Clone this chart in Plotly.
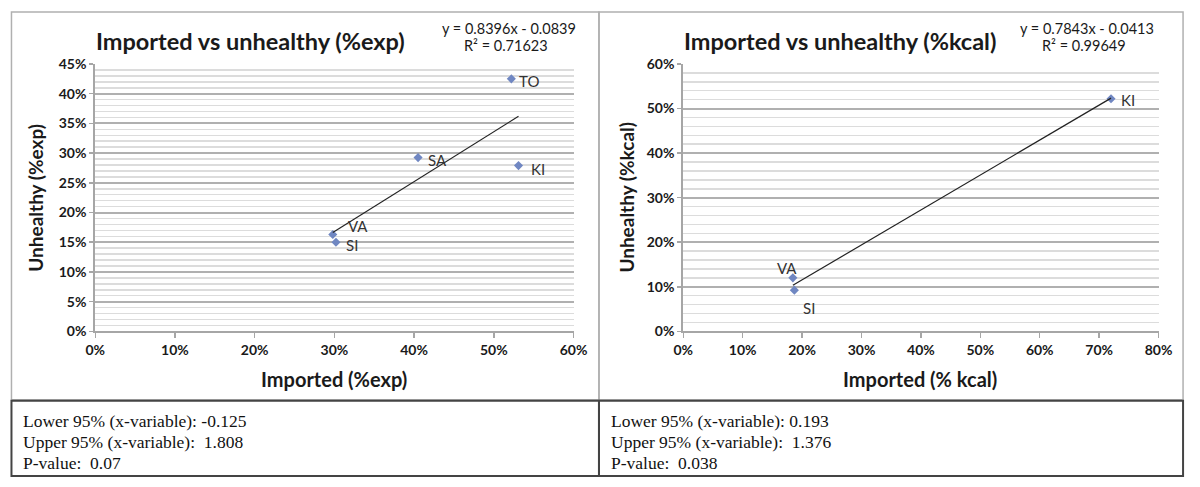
import plotly.graph_objects as go

W, H = 1200, 487

# ---- data ----
left_labels = ["TO", "SA", "KI", "VA", "SI"]
left_x = [0.522, 0.405, 0.531, 0.298, 0.302]
left_y = [0.425, 0.2925, 0.279, 0.163, 0.150]
left_slope, left_intercept = 0.8396, -0.0839
left_eq = ["y = 0.8396x - 0.0839", "R² = 0.71623"]
left_stats = ["Lower 95% (x-variable): -0.125", "Upper 95% (x-variable):  1.808", "P-value:  0.07"]

right_labels = ["KI", "VA", "SI"]
right_x = [0.720, 0.1845, 0.187]
right_y = [0.522, 0.120, 0.0925]
right_slope, right_intercept = 0.7843, -0.0413
right_eq = ["y = 0.7843x - 0.0413", "R² = 0.99649"]
right_stats = ["Lower 95% (x-variable): 0.193", "Upper 95% (x-variable):  1.376", "P-value:  0.038"]

left_title = "Imported vs unhealthy (%exp)"
right_title = "Imported vs unhealthy (%kcal)"
left_xtitle, left_ytitle = "Imported (%exp)", "Unhealthy (%exp)"
right_xtitle, right_ytitle = "Imported (% kcal)", "Unhealthy (%kcal)"

# label placement (style): (xanchor, xshift, yshift)
left_label_pos = [("left", 6, -2), ("left", 8, -2), ("left", 10, -3.5), ("left", 13, 8.5), ("left", 8, -3)]
right_label_pos = [("left", 8, -1), ("center", -5.5, 10), ("left", 7, -18)]

# ---- helpers ----
def px(x):
    return x / W

def py(y):
    return 1 - y / H

MARK = "#7087C2"
SANS = "Lato"
TXT = "#1a1a1a"

fig = go.Figure()

def trend(xs, m, b):
    x0, x1 = min(xs), max(xs)
    return [x0, x1], [m * x0 + b, m * x1 + b]

fig.add_trace(go.Scatter(x=left_x, y=left_y, mode="markers",
                         marker=dict(symbol="diamond", size=7, color=MARK),
                         xaxis="x", yaxis="y", showlegend=False, hoverinfo="skip"))
tx, ty = trend(left_x, left_slope, left_intercept)
fig.add_trace(go.Scatter(x=tx, y=ty, mode="lines", line=dict(color="#222", width=1.2),
                         xaxis="x", yaxis="y", showlegend=False, hoverinfo="skip"))

fig.add_trace(go.Scatter(x=right_x, y=right_y, mode="markers",
                         marker=dict(symbol="diamond", size=7, color=MARK),
                         xaxis="x2", yaxis="y2", showlegend=False, hoverinfo="skip"))
tx, ty = trend(right_x, right_slope, right_intercept)
fig.add_trace(go.Scatter(x=tx, y=ty, mode="lines", line=dict(color="#222", width=1.2),
                         xaxis="x2", yaxis="y2", showlegend=False, hoverinfo="skip"))

tickfont = dict(family=SANS, size=14, color=TXT, weight="bold")
AX = "#a6a6a6"

def xaxis(dom, rng, dt, anchor):
    return dict(domain=dom, range=rng, dtick=dt, tick0=0, tickformat=".0%",
                showgrid=False, zeroline=False, showline=True, linecolor=AX, linewidth=2,
                ticks="outside", ticklen=5, tickcolor=AX, tickwidth=1.5,
                tickfont=tickfont, anchor=anchor, fixedrange=True)

def yaxis(dom, rng, dt, mdt, anchor):
    return dict(domain=dom, range=rng, dtick=dt, tick0=0, tickformat=".0%",
                showgrid=True, gridcolor="#b0b0b0", gridwidth=2,
                minor=dict(dtick=mdt, showgrid=True, gridcolor="#dcdcdc", gridwidth=1.5, ticks=""),
                zeroline=False, showline=True, linecolor=AX, linewidth=2,
                ticks="outside", ticklen=4, tickcolor=AX, tickwidth=1.5,
                tickfont=tickfont, anchor=anchor, fixedrange=True)

ydom = [py(334), py(57)]
fig.update_layout(
    width=W, height=H, margin=dict(l=0, r=0, t=0, b=0),
    paper_bgcolor="white", plot_bgcolor="white", hovermode=False,
    xaxis=xaxis([px(87), px(575)], [0, 0.6], 0.1, "y"),
    yaxis=yaxis(ydom, [0, 0.45], 0.05, 0.01, "x"),
    xaxis2=xaxis([px(687), px(1172)], [0, 0.8], 0.1, "y2"),
    yaxis2=yaxis(ydom, [0, 0.6], 0.1, 0.02, "x2"),
)

ann = []
def text(x, y, s, size, bold=False, family=SANS, xanchor="center", angle=0, color=TXT):
    ann.append(dict(x=px(x), y=py(y), xref="paper", yref="paper", text=s, showarrow=False,
                    xanchor=xanchor, yanchor="middle", textangle=angle,
                    font=dict(family=family, size=size, color=color,
                              weight="bold" if bold else "normal")))

# data labels
for xs, ys, labs, pos, xr, yr in [(left_x, left_y, left_labels, left_label_pos, "x", "y"),
                                   (right_x, right_y, right_labels, right_label_pos, "x2", "y2")]:
    for xv, yv, lab, (xa, xs_, ys_) in zip(xs, ys, labs, pos):
        ann.append(dict(x=xv, y=yv, xref=xr, yref=yr, text=lab, showarrow=False,
                        xanchor=xa, yanchor="middle", xshift=xs_, yshift=ys_,
                        font=dict(family=SANS, size=15, color="#333")))

# titles
text(245, 33, left_title, 23.5, bold=True)
text(847, 33, right_title, 23.5, bold=True)
# equations
text(509, 20, left_eq[0], 14.5)
text(506, 37.5, left_eq[1], 14.5)
text(1099, 20, right_eq[0], 14.5)
text(1096, 37.5, right_eq[1], 14.5)
# axis titles
text(331, 383, left_xtitle, 20, bold=True)
text(929, 383, right_xtitle, 20, bold=True)
text(26, 195, left_ytitle, 19, bold=True, angle=-90)
text(629, 195, right_ytitle, 19, bold=True, angle=-90)
# stats
for i, s in enumerate(left_stats):
    text(11, 427 + i * 21.5, s, 17.5, family="Liberation Serif", xanchor="left", color="#111")
for i, s in enumerate(right_stats):
    text(611, 427 + i * 21.5, s, 17.5, family="Liberation Serif", xanchor="left", color="#111")
fig.update_layout(annotations=ann)

shapes = []
def rect(x0, y0, x1, y1, color, width):
    shapes.append(dict(type="rect", xref="paper", yref="paper",
                       x0=px(x0), x1=px(x1), y0=py(y1), y1=py(y0),
                       line=dict(color=color, width=width), fillcolor="rgba(0,0,0,0)"))

rect(1.5, 3, 601, 405, "#b0b0b0", 1.5)
rect(601, 3, 1197, 405, "#b0b0b0", 1.5)
rect(1.5, 406, 601, 484, "#444", 2)
rect(601, 406, 1197, 484, "#444", 2)
fig.update_layout(shapes=shapes)

post = ("document.documentElement.style.margin='0';document.documentElement.style.padding='0';"
        "document.documentElement.style.overflow='hidden';"
        "document.body.style.margin='0';document.body.style.padding='0';document.body.style.overflow='hidden';"
        "var gd=document.getElementById('{plot_id}');gd.style.position='fixed';gd.style.left='0px';gd.style.top='0px';")

fig.write_html("out.html", config={"displayModeBar": False, "staticPlot": True}, post_script=post)
